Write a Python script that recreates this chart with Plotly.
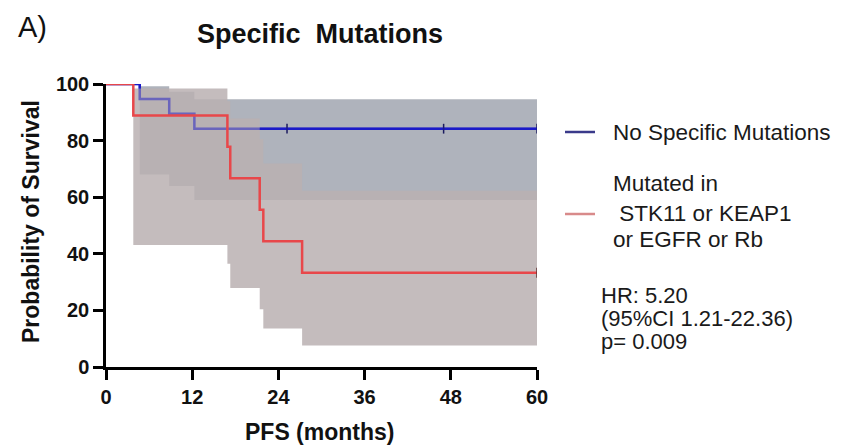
import plotly.graph_objects as go

# ---------------- data ----------------
# No Specific Mutations (blue)
blue_t = [0, 4.7, 8.8, 12.3, 60]
blue_s = [100, 94.7, 89.5, 84.2, 84.2]
blue_ci_t = [4.7, 8.8, 12.3, 60]
blue_lo = [68.0, 64.0, 59.0, 59.0]
blue_hi = [99.2, 97.3, 94.6, 94.6]
blue_censor_t = [25.2, 47.0, 60.0]

# Mutated in STK11 or KEAP1 or EGFR or Rb (red)
red_t = [0, 3.8, 16.9, 17.3, 21.4, 21.9, 27.3, 60]
red_s = [100, 88.9, 77.8, 66.7, 55.6, 44.4, 33.3, 33.3]
red_ci_t = [3.8, 16.9, 17.3, 21.4, 21.9, 27.3, 60]
red_lo = [43.1, 36.5, 27.9, 20.4, 13.6, 7.6, 7.6]
red_hi = [98.4, 93.9, 87.8, 80.5, 71.9, 62.3, 62.3]
red_censor_t = [60.0]

x_ticks = [0, 12, 24, 36, 48, 60]
y_ticks = [0, 20, 40, 60, 80, 100]

legend_labels = ["No Specific Mutations", "Mutated in", "\u00a0STK11 or KEAP1", "or EGFR or Rb"]
stats_lines = ["HR: 5.20", "(95%CI 1.21-22.36)", "p= 0.009"]

BLUE = "#1a1ac8"
RED = "#e8474a"
BLUE_BAND = "rgba(96,104,122,0.5)"
RED_BAND = "rgba(186,176,178,0.85)"
FONT = "Arial, Liberation Sans, sans-serif"


def step_value(ts, ss, t):
    v = ss[0]
    for ti, si in zip(ts, ss):
        if ti <= t:
            v = si
    return v


fig = go.Figure()

# blue band
fig.add_trace(go.Scatter(x=blue_ci_t, y=blue_lo, mode="lines", line=dict(width=0, shape="hv"),
                         hoverinfo="skip", showlegend=False))
fig.add_trace(go.Scatter(x=blue_ci_t, y=blue_hi, mode="lines", line=dict(width=0, shape="hv"),
                         fill="tonexty", fillcolor=BLUE_BAND, hoverinfo="skip", showlegend=False))
# blue curve (under the red band)
fig.add_trace(go.Scatter(x=blue_t, y=blue_s, mode="lines", line=dict(color=BLUE, width=2.5, shape="hv"),
                         showlegend=False))
fig.add_trace(go.Scatter(x=blue_censor_t, y=[step_value(blue_t, blue_s, t) for t in blue_censor_t],
                         mode="markers", marker=dict(symbol="line-ns", size=7, line=dict(color="#1a1a60", width=1.5)),
                         showlegend=False))
# red band
fig.add_trace(go.Scatter(x=red_ci_t, y=red_lo, mode="lines", line=dict(width=0, shape="hv"),
                         hoverinfo="skip", showlegend=False))
fig.add_trace(go.Scatter(x=red_ci_t, y=red_hi, mode="lines", line=dict(width=0, shape="hv"),
                         fill="tonexty", fillcolor=RED_BAND, hoverinfo="skip", showlegend=False))
# blue curve seen faintly through the red band
fig.add_trace(go.Scatter(x=blue_t, y=blue_s, mode="lines", opacity=0.4,
                         line=dict(color=BLUE, width=2.5, shape="hv"), showlegend=False))
# red curve
fig.add_trace(go.Scatter(x=red_t, y=red_s, mode="lines", line=dict(color=RED, width=2.5, shape="hv"),
                         showlegend=False))
fig.add_trace(go.Scatter(x=red_censor_t, y=[step_value(red_t, red_s, t) for t in red_censor_t],
                         mode="markers", marker=dict(symbol="line-ns", size=7, line=dict(color="#603030", width=1.5)),
                         showlegend=False))

W, H = 843, 445
L, R, T, B = 106, 306, 84, 78
pw, ph = W - L - R, H - T - B


def px(x):
    return (x - L) / pw


def py(y):
    return (H - B - y) / ph


annotations = [
    dict(text="A)", x=px(16), y=py(27), xanchor="left", yanchor="middle",
         font=dict(family=FONT, size=29, color="#111")),
    dict(text="Specific\u00a0\u00a0Mutations", x=px(320), y=py(34), xanchor="center", yanchor="middle",
         font=dict(family=FONT, size=27, color="#111", weight="bold")),
    dict(text="Probability of Survival", x=px(31), y=py(222), xanchor="center", yanchor="middle",
         textangle=-90, font=dict(family=FONT, size=23, color="#111", weight="bold")),
    dict(text="PFS (months)", x=px(320), y=py(432), xanchor="center", yanchor="middle",
         font=dict(family=FONT, size=23, color="#111", weight="bold")),
]
leg_y = [132, 183, 213, 239]
leg_x = [611, 611, 611, 611]
for txt, x, y in zip(legend_labels, leg_x, leg_y):
    annotations.append(dict(text=txt, x=px(x), y=py(y), xanchor="left", yanchor="middle",
                            font=dict(family=FONT, size=22.5, color="#1a1a1a")))
for txt, y in zip(stats_lines, [295, 318, 341]):
    annotations.append(dict(text=txt, x=px(599), y=py(y), xanchor="left", yanchor="middle",
                            font=dict(family=FONT, size=22, color="#1a1a1a")))
for a in annotations:
    a.update(xref="paper", yref="paper", showarrow=False)

shapes = [
    dict(type="line", xref="paper", yref="paper", x0=px(565), x1=px(595), y0=py(132), y1=py(132),
         line=dict(color="#3a3a8a", width=2.5)),
    dict(type="line", xref="paper", yref="paper", x0=px(565), x1=px(595), y0=py(214), y1=py(214),
         line=dict(color="#d88a8a", width=2.5)),
]

fig.update_layout(
    width=W, height=H,
    margin=dict(l=L, r=R, t=T, b=B, pad=0),
    paper_bgcolor="white", plot_bgcolor="white",
    showlegend=False,
    annotations=annotations,
    shapes=shapes,
    xaxis=dict(range=[0, 60], tickvals=x_ticks, ticktext=[str(v) for v in x_ticks],
               showgrid=False, zeroline=False, showline=True, linecolor="black", linewidth=2.5,
               ticks="outside", ticklen=10, tickwidth=2.5, tickcolor="black",
               tickfont=dict(family=FONT, size=20, color="#111", weight="bold")),
    yaxis=dict(range=[0, 100], tickvals=y_ticks, ticktext=[str(v) for v in y_ticks],
               showgrid=False, zeroline=False, showline=True, linecolor="black", linewidth=2.5,
               ticks="outside", ticklen=10, tickwidth=2.5, tickcolor="black",
               tickfont=dict(family=FONT, size=20, color="#111", weight="bold")),
)

fig.write_html("out.html")
